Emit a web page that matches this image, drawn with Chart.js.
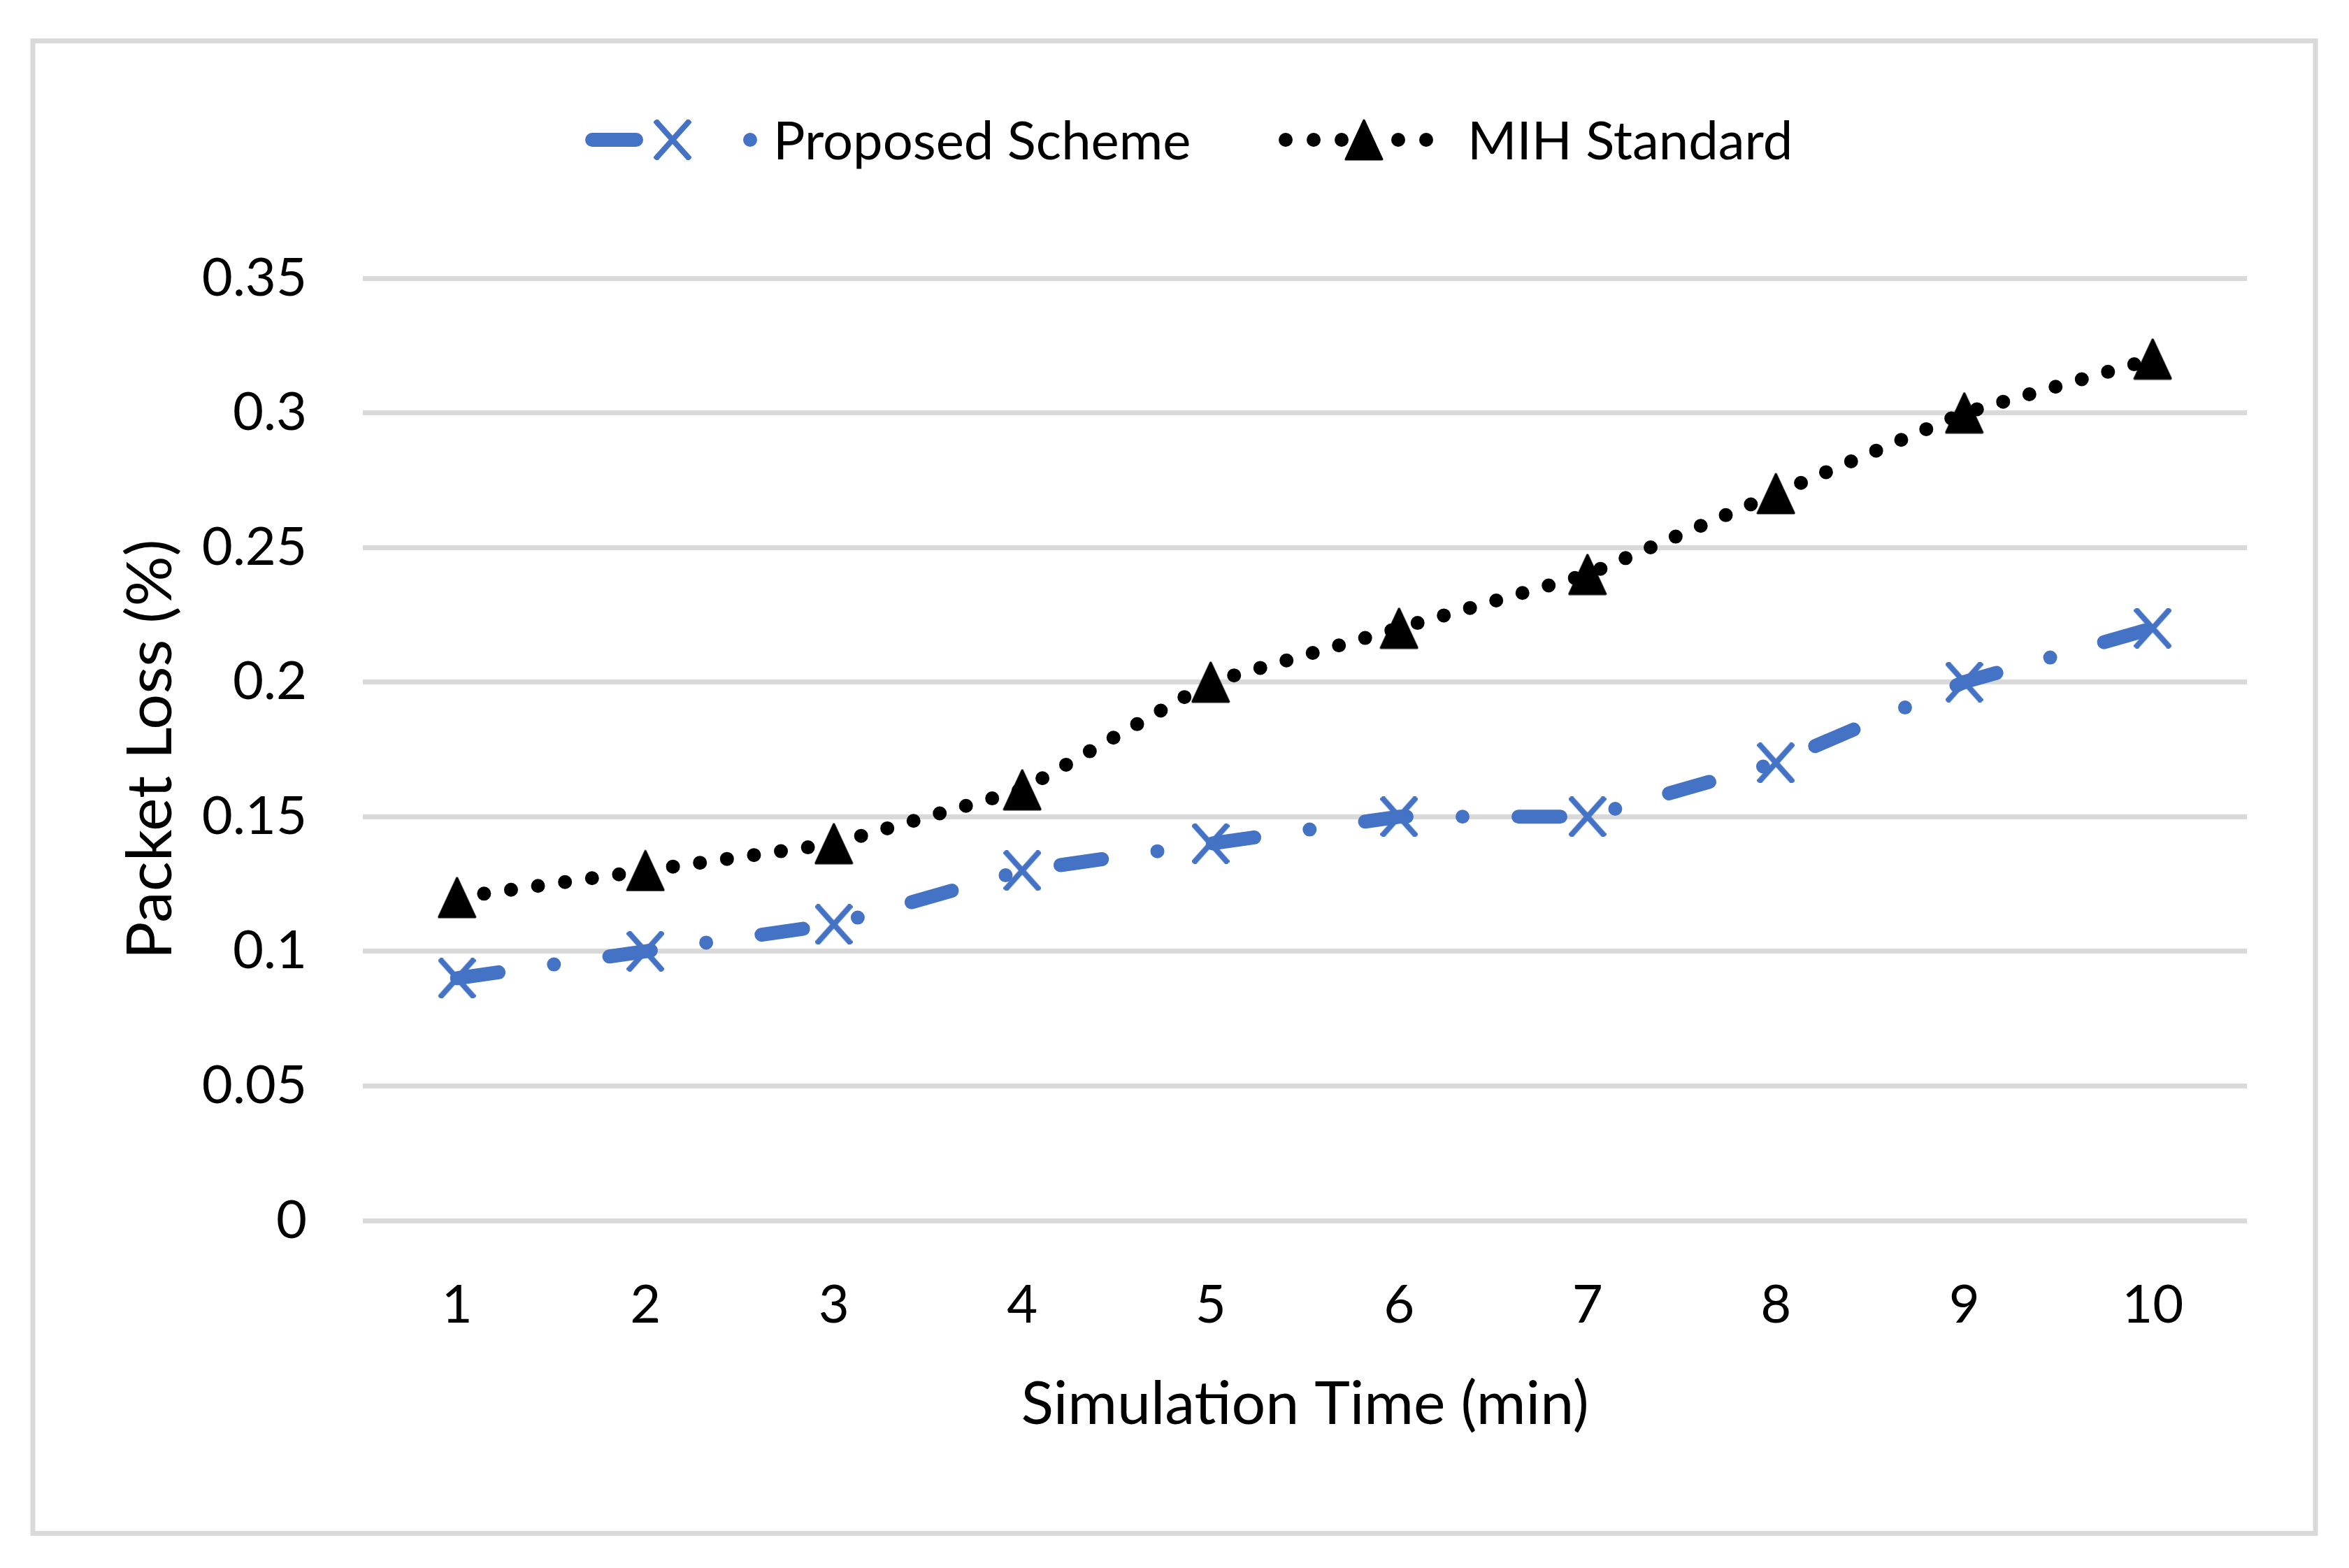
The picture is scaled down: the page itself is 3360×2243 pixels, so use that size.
<!DOCTYPE html>
<html><head><meta charset="utf-8">
<script src="https://cdn.jsdelivr.net/npm/chart.js@4.4.0/dist/chart.umd.min.js"></script>
<style>html,body{margin:0;padding:0;background:#fff;} canvas{display:block;}</style>
</head><body>
<canvas id="c" width="3360" height="2243" style="width:3360px;height:2243px"></canvas>
<script>
const categories = ['1','2','3','4','5','6','7','8','9','10'];
const proposedScheme = [0.09, 0.10, 0.11, 0.13, 0.14, 0.15, 0.15, 0.17, 0.20, 0.22];
const mihStandard = [0.12, 0.13, 0.14, 0.16, 0.20, 0.22, 0.24, 0.27, 0.30, 0.32];
const yTickLabels = ['0','0.05','0.1','0.15','0.2','0.25','0.3','0.35'];
const seriesNames = ['Proposed Scheme', 'MIH Standard'];
const xTitle = 'Simulation Time (min)';
const yTitle = 'Packet Loss (%)';

const BLUE = '#4472C4';
const FONT = 'Lato, "Liberation Sans", sans-serif';
Chart.defaults.font.family = FONT;

function makeCross() {
  const c = document.createElement('canvas');
  c.width = 54; c.height = 58;
  const x = c.getContext('2d');
  x.strokeStyle = BLUE; x.lineWidth = 8; x.lineCap = 'butt';
  x.beginPath(); x.moveTo(2, 1); x.lineTo(52, 57); x.moveTo(52, 1); x.lineTo(2, 57); x.stroke();
  return c;
}
function makeTri() {
  const c = document.createElement('canvas');
  c.width = 56; c.height = 60;
  const x = c.getContext('2d');
  x.fillStyle = '#000'; x.strokeStyle = '#000'; x.lineWidth = 3; x.lineJoin = 'round';
  x.beginPath(); x.moveTo(28, 2); x.lineTo(54, 58); x.lineTo(2, 58); x.closePath(); x.fill(); x.stroke();
  return c;
}
const crossImg = makeCross();
const triImg = makeTri();

const bgPlugin = {
  id: 'bg',
  beforeDraw(chart) {
    const ctx = chart.ctx;
    ctx.save();
    ctx.fillStyle = '#fff';
    ctx.fillRect(0, 0, chart.width, chart.height);
    ctx.strokeStyle = '#D9D9D9';
    ctx.lineWidth = 7;
    ctx.strokeRect(47, 58.5, 3265, 2135);
    ctx.restore();
  }
};

const legendPlugin = {
  id: 'customLegend',
  afterDraw(chart) {
    const ctx = chart.ctx;
    const y = 200;
    ctx.save();
    // item 1: Proposed Scheme
    ctx.strokeStyle = BLUE; ctx.fillStyle = BLUE; ctx.lineWidth = 20; ctx.lineCap = 'round';
    ctx.beginPath(); ctx.moveTo(847, y); ctx.lineTo(910, y); ctx.stroke();
    ctx.beginPath(); ctx.arc(1073, y, 10, 0, Math.PI * 2); ctx.fill();
    ctx.drawImage(crossImg, 962 - crossImg.width / 2, y - crossImg.height / 2);
    // item 2: MIH Standard
    ctx.fillStyle = '#000';
    [1839, 1879, 1919, 2000, 2040].forEach(px => { ctx.beginPath(); ctx.arc(px, y, 10, 0, Math.PI * 2); ctx.fill(); });
    ctx.drawImage(triImg, 1951 - triImg.width / 2, y - triImg.height / 2);
    // texts
    ctx.fillStyle = '#000';
    ctx.font = '76px ' + FONT;
    ctx.textAlign = 'left'; ctx.textBaseline = 'alphabetic';
    ctx.fillText(seriesNames[0], 1106, 228);
    ctx.fillText(seriesNames[1], 2099, 228);
    ctx.restore();
  }
};

new Chart(document.getElementById('c').getContext('2d'), {
  type: 'line',
  data: {
    labels: categories,
    datasets: [
      {
        label: seriesNames[0], data: proposedScheme,
        borderColor: BLUE, backgroundColor: BLUE, borderWidth: 20,
        borderDash: [60, 80, 0, 80], borderCapStyle: 'round', borderJoinStyle: 'round',
        pointStyle: crossImg, pointRadius: 10, tension: 0, fill: false
      },
      {
        label: seriesNames[1], data: mihStandard,
        borderColor: '#000', backgroundColor: '#000', borderWidth: 20,
        borderDash: [0, 39], borderCapStyle: 'round', borderJoinStyle: 'round',
        pointStyle: triImg, pointRadius: 10, tension: 0, fill: false
      }
    ]
  },
  options: {
    responsive: false, animation: false, devicePixelRatio: 1,
    layout: { padding: { left: 150, right: 146, top: 398, bottom: 150 } },
    plugins: { legend: { display: false }, tooltip: { enabled: false } },
    scales: {
      x: {
        offset: true,
        grid: { display: false, drawTicks: false },
        border: { display: false },
        ticks: { color: '#000', font: { size: 76 }, padding: 76, maxRotation: 0, autoSkip: false },
        title: { display: true, text: xTitle, color: '#000', font: { size: 86 }, padding: { top: 0, bottom: 32 } },
        afterFit(s) { s.height = 347; }
      },
      y: {
        min: 0, max: 0.35,
        grid: { color: '#D9D9D9', lineWidth: 7, drawTicks: false },
        border: { display: false },
        ticks: { stepSize: 0.05, color: '#000', font: { size: 76 }, padding: 80,
          callback: (v) => yTickLabels[Math.round(v / 0.05)] },
        title: { display: true, text: yTitle, color: '#000', font: { size: 90 }, padding: { top: 12, bottom: 0 } },
        afterFit(s) { s.width = 369; }
      }
    }
  },
  plugins: [bgPlugin, legendPlugin]
});
</script>
</body></html>
